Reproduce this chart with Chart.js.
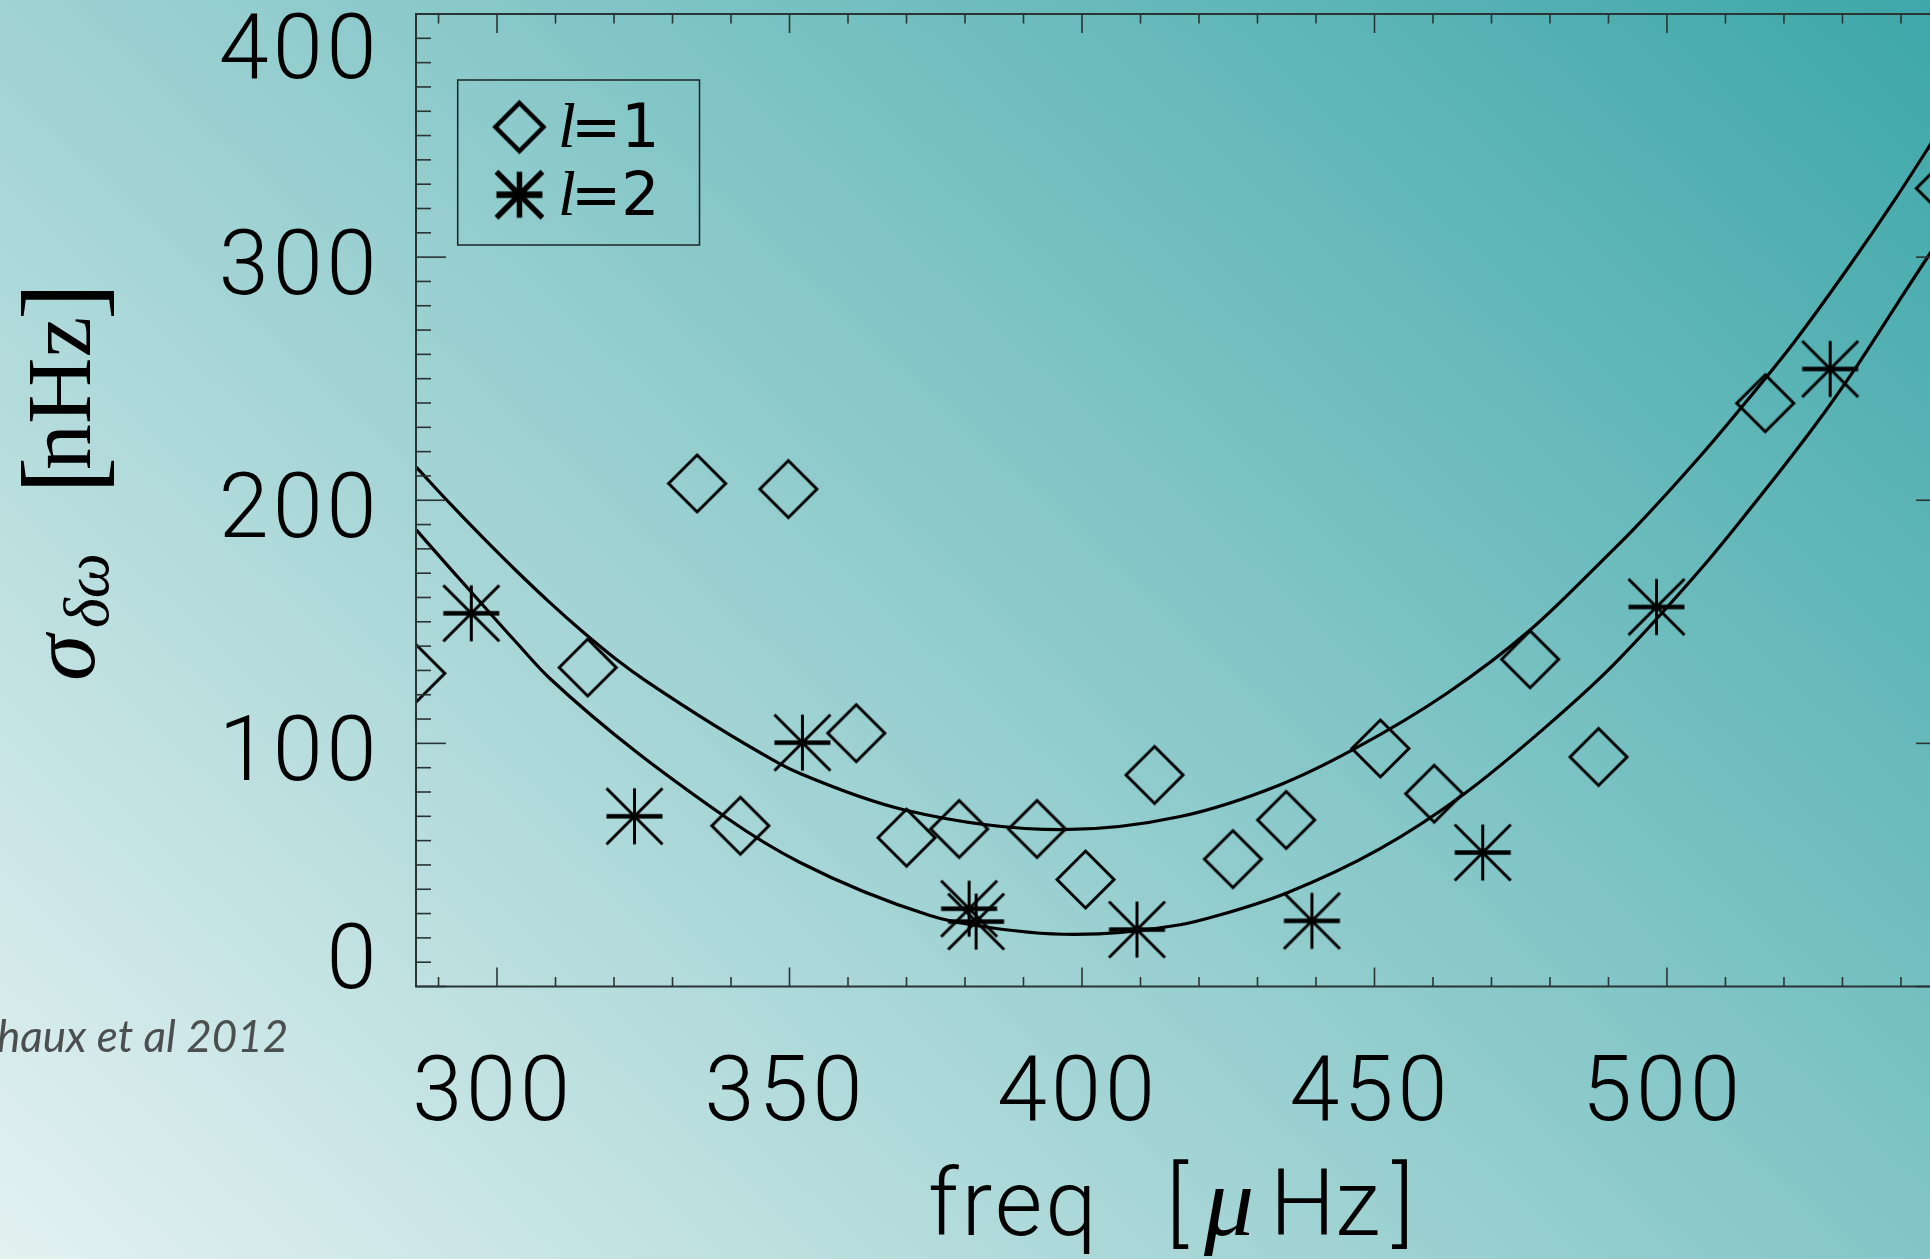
<!DOCTYPE html>
<html>
<head>
<meta charset="utf-8">
<title>Mode linewidth scatter vs frequency</title>
<script src="https://cdn.jsdelivr.net/npm/chart.js@4.4.1/dist/chart.umd.min.js"></script>
<style>
  html, body { margin: 0; padding: 0; overflow: hidden; background: #8fc8c9; }
  #wrap { width: 1960px; height: 1259px; }
  canvas { display: block; }
</style>
</head>
<body>
<div id="wrap"><canvas id="c" width="1960" height="1259"></canvas></div>
<script>
// ---- data ----------------------------------------------------------------
// l=1 modes: frequency [µHz] and scatter sigma [nHz]
const l1Freq  = [286.2, 315.5, 334.2, 341.6, 349.8, 361.4, 370.0, 379.0, 392.3, 400.6,
                 412.4, 425.8, 434.9, 451.0, 460.2, 476.6, 488.3, 516.8, 547.5];
const l1Sigma = [128.8, 131.2, 206.9,  66.1, 204.6, 104.2,  61.2,  64.8,  64.8,  44.0,
                  87.0,  52.4,  68.5,  97.9,  79.3, 134.6,  94.4, 239.9, 328.3];

// l=2 modes
const l2Freq  = [295.6, 323.5, 352.2, 380.7, 381.9, 409.4, 439.3, 468.5, 498.2, 527.9];
const l2Sigma = [153.5,  70.0, 100.3,  32.0,  26.7,  23.4,  27.0,  55.1, 156.1, 254.0];

// fitted trend through the l=1 points
const fit1Freq  = [286.2, 291.9, 297.6, 303.2, 308.9, 314.6, 320.3, 325.5, 347.9, 351.8,
                   369.7, 396.7, 416.8, 433.9, 446.4, 462.4, 476.6, 490.8, 494.2, 505.6,
                   511.9, 521.6, 530.7, 539.3, 545.0, 547.7];
const fit1Sigma = [213.6, 198.8, 184.6, 171.2, 158.2, 146.0, 134.7, 125.6,  92.2,  87.6,
                    72.6,  64.5,  69.9,  83.0,  97.5, 120.6, 146.6, 179.6, 187.8, 217.9,
                   235.8, 264.6, 294.7, 324.9, 346.2, 356.5];

// fitted trend through the l=2 points
const fit2Freq  = [286.2, 291.9, 297.6, 303.2, 308.9, 339.1, 351.8, 374.0, 381.3, 398.6,
                   416.8, 423.5, 435.0, 450.9, 465.2, 479.4, 490.8, 505.6, 511.6, 525.0,
                   532.4, 539.3, 545.0, 547.7];
const fit2Sigma = [187.8, 172.2, 156.8, 141.8, 127.0,  69.6,  51.0,  29.2,  25.3,  21.4,
                    25.4,  29.4,  38.5,  56.6,  79.0, 107.0, 132.2, 171.2, 188.6, 229.8,
                   255.0, 280.6, 301.6, 311.0];

// axes
const xRange = [286.15, 547.7];
const yRange = [0, 400];
const xTickLabels = [300, 350, 400, 450, 500];
const yTickLabels = [0, 100, 200, 300, 400];
const xMinorStep = 10, xMajorStep = 50;
const yMinorStep = 10, yMajorStep = 100;
const legendDegrees = ['1', '2'];
const citation = 'haux et al 2012';

// ---- marker glyphs -------------------------------------------------------
function makeDiamond(half, lw) {
  const s = Math.ceil(2 * half + 2 * lw + 4);
  const c = document.createElement('canvas');
  c.width = c.height = s;
  const g = c.getContext('2d');
  const m = s / 2;
  g.strokeStyle = '#000';
  g.lineWidth = lw;
  g.lineJoin = 'miter';
  g.beginPath();
  g.moveTo(m, m - half);
  g.lineTo(m + half, m);
  g.lineTo(m, m + half);
  g.lineTo(m - half, m);
  g.closePath();
  g.stroke();
  return c;
}

function makeAsterisk(r, lw, barW) {
  const s = Math.ceil(2 * r + 2 * barW + 4);
  const c = document.createElement('canvas');
  c.width = c.height = s;
  const g = c.getContext('2d');
  const m = s / 2;
  g.strokeStyle = '#000';
  g.lineCap = 'butt';
  const seg = (x0, y0, x1, y1) => { g.beginPath(); g.moveTo(x0, y0); g.lineTo(x1, y1); g.stroke(); };
  g.lineWidth = lw;
  seg(m, m - r, m, m + r);
  seg(m - r, m - r, m + r, m + r);
  seg(m - r, m + r, m + r, m - r);
  g.lineWidth = barW;
  seg(m - r, m, m + r, m);
  return c;
}

const diamondMark = makeDiamond(28.5, 3);
const asteriskMark = makeAsterisk(28, 3, 4.5);
const legendDiamond = makeDiamond(24, 4.5);
const legendAsterisk = makeAsterisk(23, 5.5, 6.5);

const pts = (xs, ys) => xs.map((x, i) => ({ x: x, y: ys[i] }));

// ---- decorations: background, frame, ticks, labels, legend ---------------
const TICK_FONT = '300 90px Roboto, "Liberation Sans", sans-serif';
const INK = '#000';
const AXIS_INK = '#2b3434';

const decor = {
  id: 'decor',
  beforeDraw(chart) {
    const ctx = chart.ctx;
    ctx.save();
    const grad = ctx.createLinearGradient(1930, 0, 412, 1640);
    grad.addColorStop(0, '#3ea7a9');
    grad.addColorStop(1, '#e4f1f1');
    ctx.fillStyle = grad;
    ctx.fillRect(0, 0, chart.width, chart.height);
    ctx.restore();
  },
  afterDatasetsDraw(chart) {
    const ctx = chart.ctx;
    const a = chart.chartArea;
    const xs = chart.scales.x, ys = chart.scales.y;
    const seg = (x0, y0, x1, y1) => { ctx.beginPath(); ctx.moveTo(x0, y0); ctx.lineTo(x1, y1); ctx.stroke(); };

    ctx.save();
    // plot frame
    ctx.strokeStyle = AXIS_INK;
    ctx.lineWidth = 2;
    ctx.strokeRect(a.left, a.top, a.right - a.left, a.bottom - a.top);

    // inward ticks on all four sides
    ctx.lineWidth = 1.6;
    const x0 = Math.ceil(xRange[0] / xMinorStep) * xMinorStep;
    for (let v = x0; v <= xRange[1]; v += xMinorStep) {
      const px = xs.getPixelForValue(v);
      const len = (v % xMajorStep === 0) ? 19 : 9.5;
      seg(px, a.bottom, px, a.bottom - len);
      seg(px, a.top, px, a.top + len);
    }
    for (let v = yRange[0]; v <= yRange[1]; v += yMinorStep) {
      const py = ys.getPixelForValue(v);
      const len = (v % yMajorStep === 0) ? 30 : 15;
      seg(a.left, py, a.left + len, py);
      seg(a.right, py, a.right - len, py);
    }

    // tick labels
    ctx.fillStyle = INK;
    ctx.font = TICK_FONT;
    ctx.textBaseline = 'alphabetic';
    ctx.letterSpacing = '4px';
    ctx.textAlign = 'left';
    xTickLabels.forEach(v => {
      const t = String(v);
      const w = ctx.measureText(t).width - 4;
      const cx = xs.getPixelForValue(v) - 6;
      ctx.fillText(t, cx - w / 2, a.bottom + 133.5);
    });
    yTickLabels.forEach(v => {
      const t = String(v);
      const w = ctx.measureText(t).width - 4;
      const py = ys.getPixelForValue(v);
      const base = Math.min(Math.max(py + 37, a.top + 64), a.bottom + 1);
      ctx.fillText(t, a.left - 39.5 - w, base);
    });

    // x-axis title: freq [µHz]
    ctx.letterSpacing = '3px';
    ctx.font = '300 92px Roboto, "Liberation Sans", sans-serif';
    ctx.fillText('freq', 928, 1235);
    ctx.letterSpacing = '0px';
    ctx.fillText('[', 1166, 1235);
    ctx.fillText('Hz', 1270, 1235);
    ctx.fillText(']', 1392, 1235);
    ctx.font = 'italic 100px "Liberation Serif", serif';
    ctx.fillText('\u03bc', 1204, 1235);

    // y-axis title: sigma_{delta omega} [nHz], reading upwards
    ctx.save();
    ctx.translate(0, 681);
    ctx.rotate(-Math.PI / 2);
    ctx.font = 'italic 94px "Liberation Serif", serif';
    ctx.fillText('\u03c3', 0, 94);
    ctx.font = 'italic 64px "Liberation Serif", serif';
    ctx.fillText('\u03b4\u03c9', 53, 108);
    ctx.font = '112px "Liberation Serif", serif';
    ctx.fillText('[', 187, 98.7);
    ctx.font = '92px "Liberation Serif", serif';
    ctx.fillText('nHz', 211, 90);
    ctx.font = '112px "Liberation Serif", serif';
    ctx.fillText(']', 361, 98.7);
    ctx.restore();

    // legend box
    ctx.strokeStyle = '#1d2424';
    ctx.lineWidth = 1.5;
    ctx.strokeRect(457.7, 80, 241.8, 165);
    const rows = [
      { mark: legendDiamond, cy: 127, base: 147 },
      { mark: legendAsterisk, cy: 194.7, base: 215 }
    ];
    rows.forEach((r, i) => {
      ctx.drawImage(r.mark, 519.4 - r.mark.width / 2, r.cy - r.mark.height / 2);
      ctx.font = 'italic 64px "Liberation Serif", serif';
      ctx.fillText('l', 558, r.base);
      ctx.font = '60px "DejaVu Sans", sans-serif';
      ctx.fillText('=' + legendDegrees[i], 571, r.base);
    });

    // reference note
    ctx.font = 'italic 44px Lato, "Open Sans", sans-serif';
    ctx.fillStyle = '#4b4f4f';
    ctx.fillText(citation, -3, 1052);
    ctx.restore();
  }
};

// ---- chart ---------------------------------------------------------------
new Chart(document.getElementById('c'), {
  type: 'scatter',
  data: {
    datasets: [
      {
        label: 'l=1 fit',
        data: pts(fit1Freq, fit1Sigma),
        showLine: true,
        borderColor: '#000',
        borderWidth: 3.2,
        pointRadius: 0,
        cubicInterpolationMode: 'monotone'
      },
      {
        label: 'l=2 fit',
        data: pts(fit2Freq, fit2Sigma),
        showLine: true,
        borderColor: '#000',
        borderWidth: 3.2,
        pointRadius: 0,
        cubicInterpolationMode: 'monotone'
      },
      {
        label: 'l=1',
        data: pts(l1Freq, l1Sigma),
        pointStyle: diamondMark,
        pointRadius: 28,
        showLine: false
      },
      {
        label: 'l=2',
        data: pts(l2Freq, l2Sigma),
        pointStyle: asteriskMark,
        pointRadius: 28,
        showLine: false
      }
    ]
  },
  options: {
    responsive: false,
    animation: false,
    devicePixelRatio: 1,
    layout: { autoPadding: false, padding: { left: 416, top: 14, right: 14, bottom: 272.5 } },
    scales: {
      x: { type: 'linear', min: xRange[0], max: xRange[1], display: false },
      y: { type: 'linear', min: yRange[0], max: yRange[1], display: false }
    },
    plugins: {
      legend: { display: false },
      tooltip: { enabled: false }
    },
    events: []
  },
  plugins: [decor]
});
</script>
</body>
</html>
